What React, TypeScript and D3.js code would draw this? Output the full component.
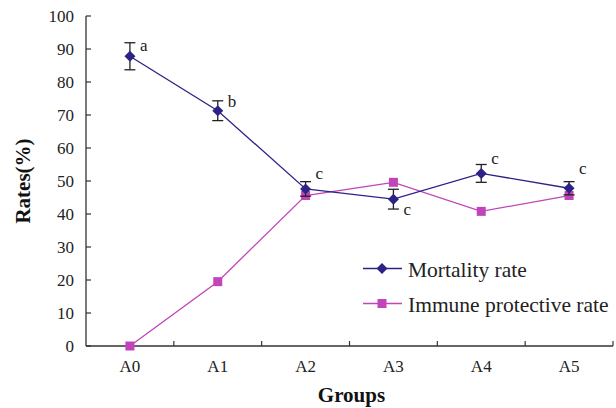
import React from "react";
import * as d3 from "d3";

const groups = ["A0", "A1", "A2", "A3", "A4", "A5"];
const mortality = [87.8, 71.3, 47.6, 44.5, 52.3, 47.8];
const mortalityErr = [4.1, 3.0, 2.2, 3.0, 2.7, 2.0];
const immune = [0, 19.5, 45.6, 49.6, 40.8, 45.6];
const sigLetters = ["a", "b", "c", "c", "c", "c"];
const sigLetterY = [89.4, 72.4, 50.6, 39.7, 55.2, 52.1];
const yTicks = [0, 10, 20, 30, 40, 50, 60, 70, 80, 90, 100];
const legendLabels = ["Mortality rate", "Immune protective rate"];

const W = 616;
const H = 408;
const M = { left: 86, right: 613, top: 16, bottom: 346 };
const C_MORT = "#2d2386";
const C_IMM = "#c244bb";
const AX = "#333";
const FONT = '"Liberation Serif", "Tinos", "Times New Roman", serif';

export default function App() {
  const x = d3.scaleBand<string>().domain(groups).range([M.left, M.right]).padding(0);
  const y = d3.scaleLinear().domain([0, 100]).range([M.bottom, M.top]);
  const cx = (g: string) => (x(g) as number) + x.bandwidth() / 2;

  const line = d3
    .line<number>()
    .x((_, i) => cx(groups[i]))
    .y((d) => y(d));

  const diamond = (r: number) => `M0,${-r}L${r},0L0,${r}L${-r},0Z`;
  const boundaries = groups.map((g) => (x(g) as number) + x.bandwidth());
  const ts = { fontFamily: FONT };

  return (
    <svg
      width={W}
      height={H}
      style={{ position: "absolute", left: 0, top: 0, display: "block", background: "#fff" }}
    >
      <rect width={W} height={H} fill="#fff" />
      {/* Y axis */}
      <line x1={M.left} x2={M.left} y1={y(100)} y2={y(0)} stroke={AX} strokeWidth={1.3} />
      {yTicks.map((t) => (
        <g key={t}>
          <line x1={M.left} x2={M.left + 5} y1={y(t)} y2={y(t)} stroke={AX} strokeWidth={1.2} />
          <text style={ts} x={M.left - 12} y={y(t)} dy="0.35em" textAnchor="end" fontSize={17} fill="#222">
            {t}
          </text>
        </g>
      ))}
      {/* X axis */}
      <line x1={M.left} x2={M.right} y1={y(0)} y2={y(0)} stroke={AX} strokeWidth={1.3} />
      {boundaries.map((b, i) => (
        <line key={i} x1={b} x2={b} y1={y(0)} y2={y(0) - 5} stroke={AX} strokeWidth={1.2} />
      ))}
      {groups.map((g) => (
        <text style={ts} key={g} x={cx(g)} y={372} textAnchor="middle" fontSize={17} fill="#222">
          {g}
        </text>
      ))}
      <text style={ts} x={(M.left + M.right) / 2 + 2} y={402} textAnchor="middle" fontSize={21} fontWeight="bold" fill="#111">
        Groups
      </text>
      <text
        style={ts}
        transform={`translate(30,${(M.top + M.bottom) / 2}) rotate(-90)`}
        textAnchor="middle"
        fontSize={21}
        fontWeight="bold"
        fill="#111"
      >
        Rates(%)
      </text>

      {/* Immune line */}
      <path d={line(immune) as string} fill="none" stroke={C_IMM} strokeWidth={1.3} />
      {immune.map((v, i) => (
        <rect key={i} x={cx(groups[i]) - 4.5} y={y(v) - 4.5} width={9} height={9} fill={C_IMM} />
      ))}

      {/* Mortality line */}
      <path d={line(mortality) as string} fill="none" stroke={C_MORT} strokeWidth={1.3} />
      {mortality.map((v, i) => {
        const px = cx(groups[i]);
        const top = y(v + mortalityErr[i]);
        const bot = y(v - mortalityErr[i]);
        return (
          <g key={i}>
            <line x1={px} x2={px} y1={top} y2={bot} stroke="#222" strokeWidth={1.3} />
            <line x1={px - 5.5} x2={px + 5.5} y1={top} y2={top} stroke="#222" strokeWidth={1.3} />
            <line x1={px - 5.5} x2={px + 5.5} y1={bot} y2={bot} stroke="#222" strokeWidth={1.3} />
            <path d={diamond(5.5)} transform={`translate(${px},${y(v)})`} fill={C_MORT} />
          </g>
        );
      })}
      {sigLetters.map((s, i) => (
        <text style={ts} key={i} x={cx(groups[i]) + 10} y={y(sigLetterY[i])} fontSize={17} fill="#222">
          {s}
        </text>
      ))}

      {/* Legend */}
      {legendLabels.map((l, i) => {
        const ly = 268.5 + i * 35;
        const col = i === 0 ? C_MORT : C_IMM;
        return (
          <g key={l}>
            <line x1={363} x2={402} y1={ly} y2={ly} stroke={col} strokeWidth={1.3} />
            {i === 0 ? (
              <path d={diamond(5.5)} transform={`translate(382,${ly})`} fill={col} />
            ) : (
              <rect x={382 - 4.5} y={ly - 4.5} width={9} height={9} fill={col} />
            )}
            <text style={ts} x={408} y={ly + 8} fontSize={21.5} fill="#222">
              {l}
            </text>
          </g>
        );
      })}
    </svg>
  );
}
